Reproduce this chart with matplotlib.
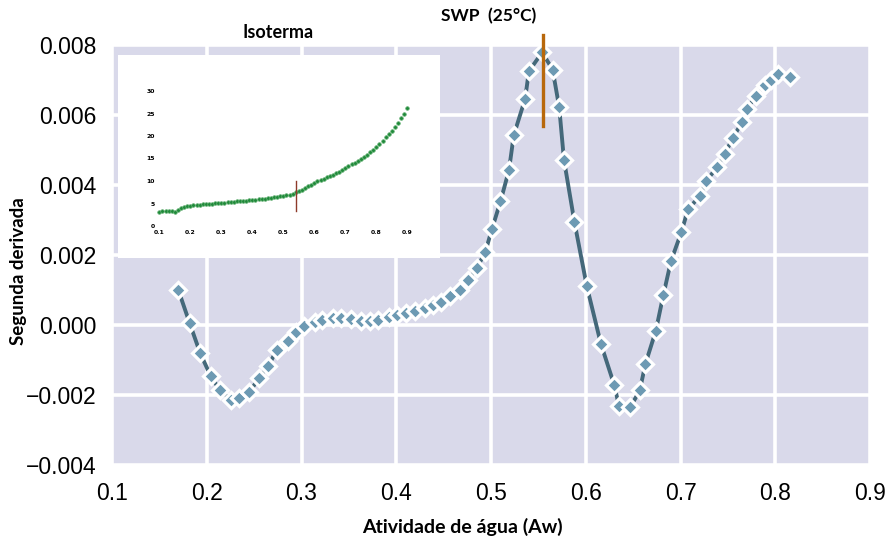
import matplotlib
matplotlib.use('Agg')
import matplotlib.pyplot as plt

# second derivative of the sorption isotherm
aw = [0.170, 0.182, 0.193, 0.204, 0.214, 0.226, 0.234, 0.245, 0.255, 0.265,
      0.274, 0.286, 0.294, 0.303, 0.314, 0.322, 0.333, 0.342, 0.352, 0.363,
      0.372, 0.381, 0.392, 0.401, 0.410, 0.420, 0.430, 0.439, 0.447, 0.457,
      0.467, 0.476, 0.485, 0.494, 0.501, 0.510, 0.519, 0.524, 0.536, 0.540,
      0.554, 0.565, 0.572, 0.577, 0.588, 0.601, 0.616, 0.630, 0.635, 0.647,
      0.657, 0.663, 0.674, 0.682, 0.690, 0.701, 0.708, 0.721, 0.727, 0.739,
      0.747, 0.755, 0.765, 0.770, 0.780, 0.789, 0.796, 0.803, 0.816]
d2 = [0.00100, 0.00005, -0.00080, -0.00145, -0.00187, -0.00214, -0.00208, -0.00192, -0.00152, -0.00118,
      -0.00070, -0.00045, -0.00019, -0.00004, 0.00008, 0.00015, 0.00019, 0.00019, 0.00017, 0.00012,
      0.00012, 0.00015, 0.00022, 0.00029, 0.00034, 0.00041, 0.00048, 0.00057, 0.00065, 0.00083,
      0.00099, 0.00129, 0.00162, 0.00209, 0.00274, 0.00353, 0.00443, 0.00542, 0.00646, 0.00725,
      0.00779, 0.00730, 0.00622, 0.00472, 0.00295, 0.00112, -0.00054, -0.00171, -0.00230, -0.00235,
      -0.00187, -0.00111, -0.00016, 0.00087, 0.00183, 0.00266, 0.00331, 0.00370, 0.00411, 0.00452,
      0.00490, 0.00533, 0.00580, 0.00618, 0.00655, 0.00687, 0.00701, 0.00717, 0.00709]

# isotherm (inset)
iso_aw = [0.10, 0.11, 0.12, 0.13, 0.14, 0.15, 0.16, 0.17, 0.18, 0.19,
          0.20, 0.21, 0.22, 0.23, 0.24, 0.25, 0.26, 0.27, 0.28, 0.29,
          0.30, 0.31, 0.32, 0.33, 0.34, 0.35, 0.36, 0.37, 0.38, 0.39,
          0.40, 0.41, 0.42, 0.43, 0.44, 0.45, 0.46, 0.47, 0.48, 0.49,
          0.50, 0.51, 0.52, 0.53, 0.54, 0.55, 0.56, 0.57, 0.58, 0.59,
          0.60, 0.61, 0.62, 0.63, 0.64, 0.65, 0.66, 0.67, 0.68, 0.69,
          0.70, 0.71, 0.72, 0.73, 0.74, 0.75, 0.76, 0.77, 0.78, 0.79,
          0.80, 0.81, 0.82, 0.83, 0.84, 0.85, 0.86, 0.87, 0.88, 0.89, 0.90]
iso_w = [3.2, 3.3, 3.4, 3.35, 3.25, 3.2, 3.6, 4.1, 4.3, 4.4,
         4.5, 4.6, 4.7, 4.75, 4.85, 4.9, 4.95, 5.0, 5.05, 5.1,
         5.15, 5.2, 5.25, 5.3, 5.4, 5.45, 5.5, 5.55, 5.6, 5.7,
         5.75, 5.85, 5.9, 6.0, 6.1, 6.2, 6.3, 6.4, 6.5, 6.6,
         6.7, 6.85, 7.0, 7.2, 7.45, 7.7, 8.0, 8.4, 8.8, 9.2,
         9.6, 9.9, 10.2, 10.5, 10.8, 11.1, 11.4, 11.7, 12.1, 12.5,
         12.9, 13.3, 13.7, 14.1, 14.5, 14.9, 15.3, 15.8, 16.4, 17.0,
         17.6, 18.3, 19.0, 19.7, 20.4, 21.2, 22.0, 22.9, 23.9, 25.0, 26.3]

swp_aw = 0.5547
swp_span = (0.0057, 0.0083)
iso_mark = 0.54
iso_mark_span = (3.4, 10.0)

xticks = [0.1, 0.2, 0.3, 0.4, 0.5, 0.6, 0.7, 0.8, 0.9]
yticks = [-0.004, -0.002, 0.000, 0.002, 0.004, 0.006, 0.008]

W, H = 891, 543
fig = plt.figure(figsize=(W / 100, H / 100), dpi=100)


def px_box(x0, y0, x1, y1):
    return [x0 / W, 1 - y1 / H, (x1 - x0) / W, (y1 - y0) / H]


ax = fig.add_axes(px_box(112, 45, 870, 465))
ax.set_facecolor('#d9d9ea')
for s in ax.spines.values():
    s.set_visible(False)
ax.grid(True, color='white', lw=2.6)
ax.set_axisbelow(True)

ax.plot(aw, d2, color='#44687a', lw=2.8, marker='D', ms=8,
        mfc='#6d9ab3', mec='white', mew=2.3, zorder=3, clip_on=False)
ax.plot([swp_aw, swp_aw], swp_span, color='#b8680c', lw=2.4, zorder=4, clip_on=False)

ax.set_xlim(0.1, 0.9)
ax.set_ylim(-0.004, 0.008)
ax.set_xticks(xticks)
ax.set_yticks(yticks)
ax.set_xticklabels(['%.1f' % v for v in xticks])
ax.set_yticklabels([('%.3f' % v).replace('-', '\u2212') for v in yticks])
ax.tick_params(length=0, labelsize=16.5)
ax.tick_params(axis='x', pad=12)
ax.tick_params(axis='y', pad=11)
for lab in ax.get_xticklabels() + ax.get_yticklabels():
    lab.set_family('Liberation Sans')

ax.set_xlabel('Atividade de água (Aw)', family='Lato', weight='bold', fontsize=14, va='center')
ax.set_ylabel('Segunda derivada', family='Lato', weight='bold', fontsize=13.5, va='center')
ax.xaxis.set_label_coords((462 - 112) / 758, (465 - 527) / 420)
ax.yaxis.set_label_coords((18 - 112) / 758, (465 - 271) / 420)

fig.text(489 / W, 1 - 16 / H, 'SWP  (25°C)', family='Lato', weight='bold',
         fontsize=12.5, ha='center', va='center')
fig.text(278 / W, 1 - 33 / H, 'Isoterma', family='Lato', weight='bold',
         fontsize=13, ha='center', va='center')

# white panel behind the isotherm
panel = fig.add_axes(px_box(118, 55, 440, 258))
panel.set_facecolor('white')
panel.set_xticks([])
panel.set_yticks([])
for s in panel.spines.values():
    s.set_visible(False)

ins = fig.add_axes(px_box(159.3, 91, 407.3, 226))
ins.patch.set_alpha(0)
for s in ins.spines.values():
    s.set_visible(False)
ins.plot(iso_aw, iso_w, ls='none', marker='o', ms=2.6, mfc='#1f8a3a', mec='#5fae6f',
         mew=0.5, clip_on=False)
ins.plot([iso_mark, iso_mark], iso_mark_span, color='#8e3a2a', lw=1.0)
ins.set_xlim(0.1, 0.9)
ins.set_ylim(0, 30)
ins.set_xticks([0.1, 0.2, 0.3, 0.4, 0.5, 0.6, 0.7, 0.8, 0.9])
ins.set_yticks([0, 5, 10, 15, 20, 25, 30])
ins.set_xticklabels(['0.1', '0.2', '0.3', '0.4', '0.5', '0.6', '0.7', '0.8', '0.9'])
ins.tick_params(length=0, labelsize=4.4, pad=3)
for lab in ins.get_xticklabels() + ins.get_yticklabels():
    lab.set_weight('bold')

fig.savefig('out.png', dpi=100)
